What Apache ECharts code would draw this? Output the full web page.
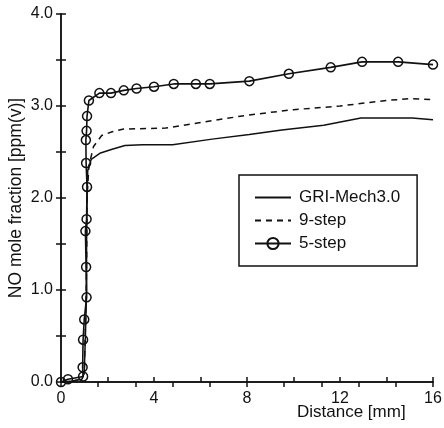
<!DOCTYPE html>
<html><head><meta charset="utf-8">
<script src="https://cdn.jsdelivr.net/npm/echarts@6/dist/echarts.min.js"></script>
<style>html,body{margin:0;padding:0;background:#fff}#c{width:444px;height:428px}</style>
</head><body><div id="c"></div>
<script>
// Distance [mm] / NO mole fraction [ppm(v)]
const griX = [0, 0.5, 0.9, 1.0, 1.05, 1.1, 1.1, 1.12, 1.15, 1.3, 1.7, 2.2, 2.75, 3.5, 4.8, 6.5, 8.1, 9.5, 11.3, 12.9, 15.1, 16];
const griY = [0, 0.01, 0.03, 0.1, 0.5, 1.0, 1.5, 2.0, 2.3, 2.42, 2.49, 2.53, 2.57, 2.58, 2.58, 2.64, 2.69, 2.74, 2.79, 2.87, 2.87, 2.85];
const nineX = [0, 0.5, 0.9, 1.0, 1.05, 1.1, 1.12, 1.2, 1.4, 1.75, 2.2, 2.7, 4.5, 6, 8, 10, 12, 14, 15, 16];
const nineY = [0, 0.01, 0.03, 0.1, 0.6, 1.2, 2.0, 2.35, 2.56, 2.68, 2.72, 2.75, 2.76, 2.82, 2.9, 2.96, 3.0, 3.06, 3.08, 3.07];
const fiveX = [0, 0.3, 0.95, 0.93, 0.95, 1.0, 1.1, 1.08, 1.05, 1.1, 1.12, 1.08, 1.07, 1.1, 1.12, 1.2, 1.65, 2.15, 2.7, 3.25, 4.0, 4.85, 5.8, 6.4, 8.1, 9.8, 11.6, 12.95, 14.5, 16];
const fiveY = [0, 0.03, 0.06, 0.16, 0.46, 0.68, 0.92, 1.25, 1.64, 1.77, 2.12, 2.38, 2.63, 2.73, 2.89, 3.06, 3.14, 3.14, 3.17, 3.19, 3.21, 3.24, 3.24, 3.24, 3.27, 3.35, 3.42, 3.48, 3.48, 3.45];
const seriesNames = ['GRI-Mech3.0', '9-step', '5-step'];
const xTicks = [0, 4, 8, 12, 16];
const yTicks = [0, 1, 2, 3, 4];
const xTitle = 'Distance [mm]';
const yTitle = 'NO mole fraction [ppm(v)]';

const zip = (xs, ys) => xs.map((x, i) => [x, ys[i]]);
const font = 'Liberation Sans, Arial, Helvetica, sans-serif';
const black = '#111';
const clear = 'rgba(0,0,0,0)';
const axLine = { show: true, lineStyle: { color: black, width: 1.5 } };
const tick = { show: true, inside: true, length: 5, lineStyle: { color: black, width: 1.5 } };

const chart = echarts.init(document.getElementById('c'), null, { renderer: 'canvas' });
chart.setOption({
  animation: false,
  backgroundColor: '#fff',
  grid: { left: 61, top: 14, right: 11, bottom: 46, containLabel: false, outerBoundsMode: 'none' },
  xAxis: [
    { type: 'value', min: xTicks[0], max: xTicks[xTicks.length - 1], interval: 4, position: 'bottom',
      axisLine: axLine, splitLine: { show: false }, axisTick: tick,
      minorTick: { show: true, splitNumber: 2, length: 5, lineStyle: { color: black, width: 1.5 } },
      axisLabel: { fontSize: 16, color: black, fontFamily: font, margin: 9 } },
    { type: 'value', min: 0, max: 16, interval: 1.6, position: 'top',
      axisLine: axLine, splitLine: { show: false }, axisTick: tick,
      axisLabel: { show: false } }
  ],
  yAxis: [
    { type: 'value', min: yTicks[0], max: yTicks[yTicks.length - 1], interval: 1, position: 'left',
      axisLine: axLine, splitLine: { show: false }, axisTick: tick,
      minorTick: { show: true, splitNumber: 2, length: 5, lineStyle: { color: black, width: 1.5 } },
      axisLabel: { fontSize: 16, color: black, fontFamily: font, margin: 8, formatter: v => v.toFixed(1) },
      name: yTitle, nameLocation: 'middle', nameGap: 36, nameMoveOverlap: false,
      nameTextStyle: { fontSize: 17.5, color: black, fontFamily: font } },
    { type: 'value', min: 0, max: 4, interval: 0.5, position: 'right',
      axisLine: axLine, splitLine: { show: false }, axisTick: tick,
      axisLabel: { show: false } }
  ],
  legend: {
    orient: 'vertical', left: 239, top: 175, selectedMode: false,
    borderColor: black, borderWidth: 1.5, borderRadius: 0,
    padding: [14, 17, 14, 15], itemGap: 6, itemWidth: 36, itemHeight: 14,
    textStyle: { fontSize: 17, color: black, fontFamily: font, padding: [0, 0, 0, 3] },
    data: seriesNames
  },
  graphic: [{ type: 'text', left: 297, top: 404,
    style: { text: xTitle, fill: black, font: '17px ' + font } }],
  series: [
    { name: seriesNames[0], type: 'line', data: zip(griX, griY), symbol: 'none',
      lineStyle: { color: black, width: 1.5 }, itemStyle: { color: clear } },
    { name: seriesNames[1], type: 'line', data: zip(nineX, nineY), symbol: 'none',
      lineStyle: { color: black, width: 1.5, type: [6, 5] }, itemStyle: { color: clear } },
    { name: seriesNames[2], type: 'line', data: zip(fiveX, fiveY), symbol: 'circle', symbolSize: 9,
      showAllSymbol: true,
      lineStyle: { color: black, width: 1.6 },
      itemStyle: { color: clear, borderColor: black, borderWidth: 1.5 } }
  ]
});
</script></body></html>
